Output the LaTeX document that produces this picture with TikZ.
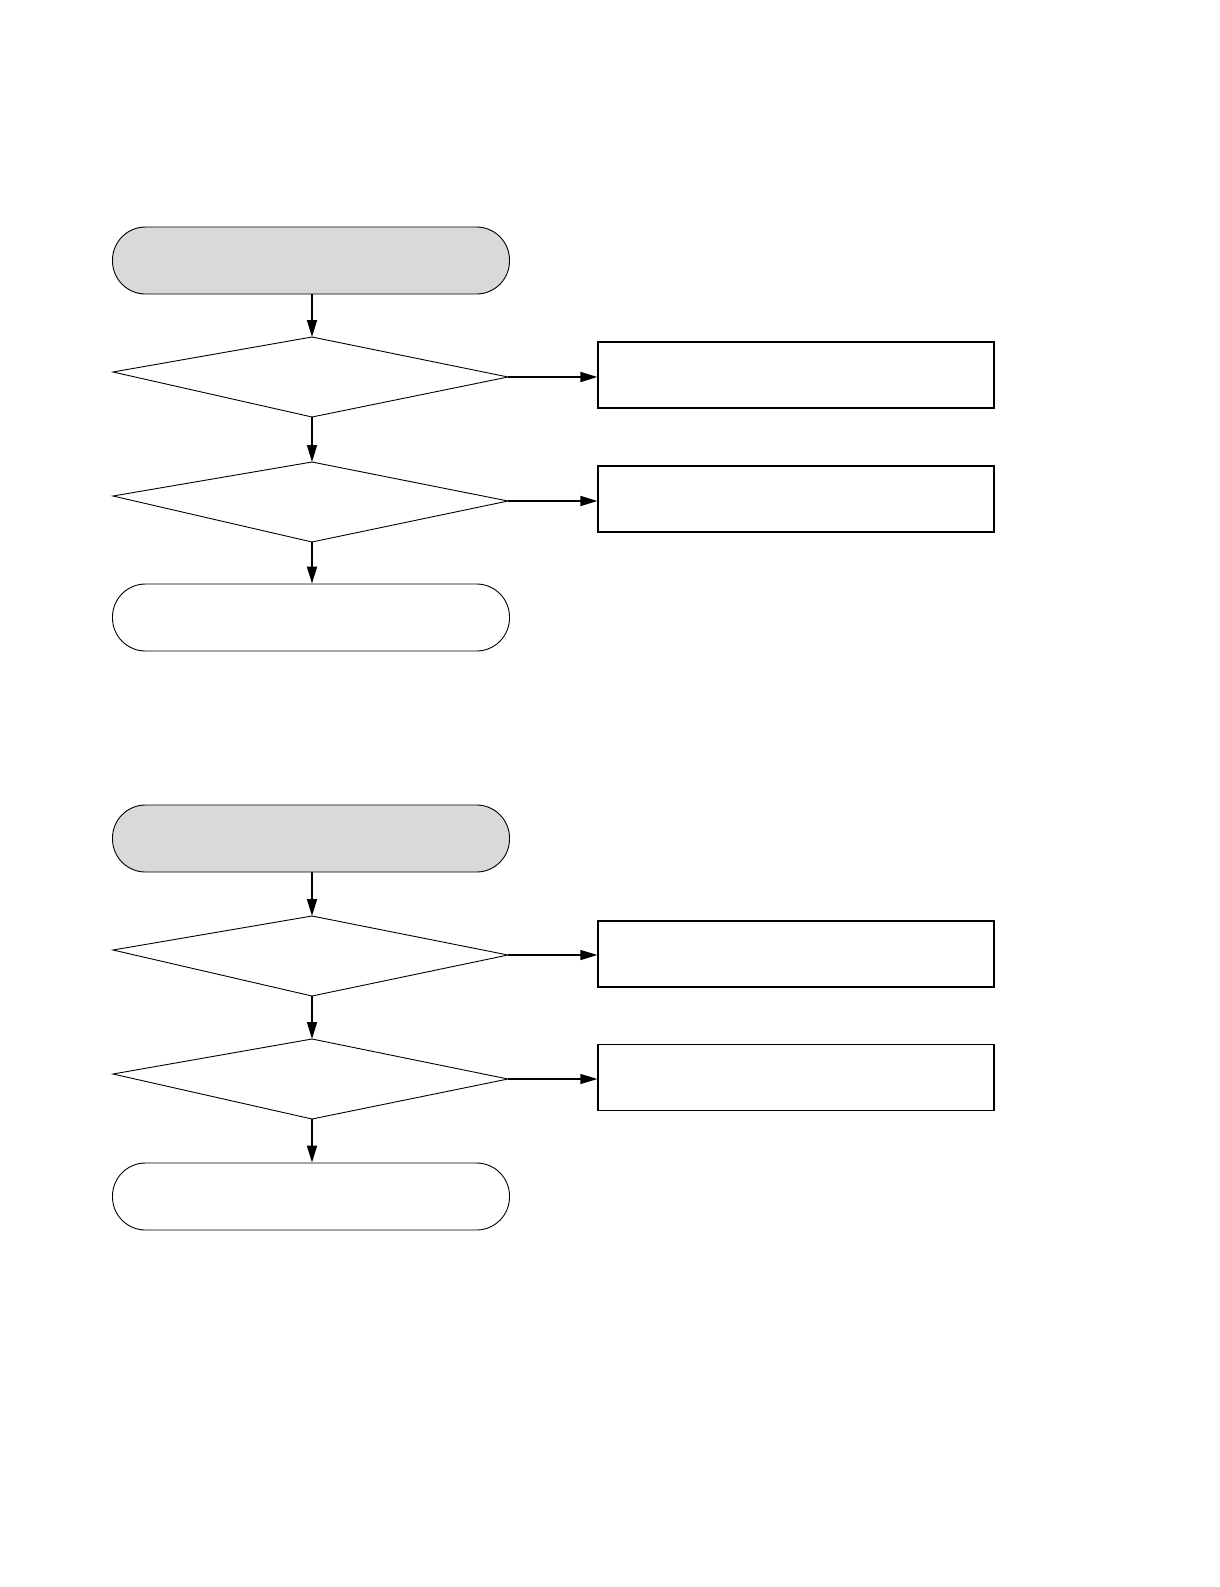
\documentclass[tikz,border=0pt]{standalone}
\usetikzlibrary{arrows.meta}
\definecolor{termgray}{HTML}{D9D9D9}
\begin{document}
\begin{tikzpicture}[x=1pt,y=-1pt,
  term/.style={draw, line width=0.9pt, rounded corners=33pt, minimum width=397pt, minimum height=67pt, inner sep=0pt},
  startterm/.style={term, fill=termgray},
  actbox/.style={draw, line width=1.3pt, minimum width=396pt, minimum height=66pt, inner sep=0pt},
  decision/.style={draw, line width=0.9pt, line join=miter},
  arr/.style={line width=1.9pt, -{Triangle[length=17pt,width=10pt]}},
  arrthin/.style={line width=1.3pt, -{Triangle[length=17pt,width=10pt]}}]
\useasboundingbox (0,0) rectangle (1219,1587);

% ---------- upper chart ----------
\node[startterm] (t1) at (311,260.5) {};
\coordinate (d1t) at (312,337); \coordinate (d1l) at (113,372);
\coordinate (d1r) at (508,377); \coordinate (d1b) at (312,417);
\draw[decision] (d1t) -- (d1r) -- (d1b) -- (d1l) -- cycle;
\coordinate (d2t) at (312,462); \coordinate (d2l) at (113,496);
\coordinate (d2r) at (508,501); \coordinate (d2b) at (312,542);
\draw[decision] (d2t) -- (d2r) -- (d2b) -- (d2l) -- cycle;
\node[term] (t2) at (311,617.5) {};
\node[actbox] (b1) at (796,375) {};
\node[actbox] (b2) at (796,499) {};

\draw[arr] (t1.south -| d1t) -- (d1t);
\draw[arr] (d1b) -- (d2t);
\draw[arr] (d2b) -- (t2.north -| d2b);
\draw[arr] (d1r) -- (d1r -| b1.west);
\draw[arr] (d2r) -- (d2r -| b2.west);

% ---------- lower chart ----------
\node[startterm] (t3) at (311,838.5) {};
\coordinate (d3t) at (312,916); \coordinate (d3l) at (113,950);
\coordinate (d3r) at (508,955); \coordinate (d3b) at (312,996);
\draw[decision] (d3t) -- (d3r) -- (d3b) -- (d3l) -- cycle;
\coordinate (d4t) at (312,1039); \coordinate (d4l) at (113,1074);
\coordinate (d4r) at (508,1079); \coordinate (d4b) at (312,1119);
\draw[decision] (d4t) -- (d4r) -- (d4b) -- (d4l) -- cycle;
\node[term] (t4) at (311,1196.5) {};
\node[actbox] (b3) at (796,954) {};
\node[actbox] (b4) at (796,1077.5) {};

\draw[arr] (t3.south -| d3t) -- (d3t);
\draw[arr] (d3b) -- (d4t);
\draw[arr] (d4b) -- (t4.north -| d4b);
\draw[arrthin] (d3r) -- (d3r -| b3.west);
\draw[arrthin] (d4r) -- (d4r -| b4.west);
\end{tikzpicture}
\end{document}
